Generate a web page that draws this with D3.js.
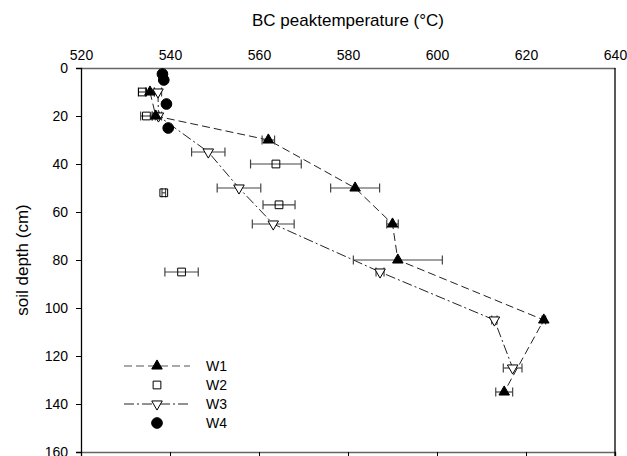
<!DOCTYPE html>
<html>
<head>
<meta charset="utf-8">
<script src="https://cdn.jsdelivr.net/npm/d3@7"></script>
<style>
  body { margin: 0; background: white; overflow: hidden; }
  svg { display: block; font-family: "Liberation Sans", Arial, sans-serif; }
</style>
</head>
<body>
<div id="chart"></div>
<script>
// soil depth (cm) and BC peak temperature (°C) per profile
const w1Depth = [10, 20, 30, 50, 65, 80, 105, 135];
const w1Temp = [535.5, 536.8, 562.1, 581.6, 590.0, 591.2, 624.0, 615.1];
const w1Err = [1.0, 0.8, 1.4, 5.5, 1.3, 10.0, 0.4, 1.9];

const w2Depth = [10, 20, 40, 52, 57, 85];
const w2Temp = [533.8, 534.7, 563.8, 538.6, 564.5, 542.6];
const w2Err = [0.9, 1.3, 5.7, 0.4, 3.6, 3.75];

const w3Depth = [10, 20, 35, 50, 65, 85, 105, 125];
const w3Temp = [537.3, 537.4, 548.6, 555.5, 563.2, 587.2, 612.9, 617.0];
const w3Err = [0.8, 0.7, 3.75, 4.9, 4.7, 0.9, 0.6, 2.1];

const w4Depth = [2.5, 5, 15, 25];
const w4Temp = [538.3, 538.6, 539.2, 539.6];

const xTicks = [520, 540, 560, 580, 600, 620, 640];
const yTicks = [0, 20, 40, 60, 80, 100, 120, 140, 160];
const seriesNames = ["W1", "W2", "W3", "W4"];

const width = 627, height = 456;
const plotL = 81, plotR = 615, plotT = 68, plotB = 452;

const svg = d3.select("#chart")
    .append("svg")
    .attr("width", width)
    .attr("height", height);

const x = d3.scaleLinear().domain([520, 640]).range([plotL, plotR]);
const y = d3.scaleLinear().domain([0, 160]).range([plotT, plotB]);

const zip = (d, t, e) => d.map((v, i) => ({ depth: v, temp: t[i], err: e ? e[i] : 0 }));
const w1 = zip(w1Depth, w1Temp, w1Err);
const w2 = zip(w2Depth, w2Temp, w2Err);
const w3 = zip(w3Depth, w3Temp, w3Err);
const w4 = zip(w4Depth, w4Temp);

// axes
const topAxis = svg.append("g")
    .attr("transform", `translate(0,${plotT})`)
    .call(d3.axisTop(x).tickValues(xTicks).tickSize(0).tickPadding(8));
topAxis.select(".domain").attr("stroke", "#666").attr("stroke-width", 1.5);

// bottom axis: only the tick marks show, its labels fall below the picture
const bottomAxis = svg.append("g")
    .attr("transform", `translate(0,${plotB})`)
    .call(d3.axisBottom(x).tickValues(xTicks).tickSize(5).tickFormat(""));
bottomAxis.select(".domain").attr("stroke", "#666").attr("stroke-width", 1.5);

const leftAxis = svg.append("g")
    .attr("transform", `translate(${plotL},0)`)
    .call(d3.axisLeft(y).tickValues(yTicks).tickSize(5).tickPadding(8));
leftAxis.select(".domain").attr("stroke", "#000").attr("stroke-width", 1.3);

svg.append("line")
    .attr("x1", plotR).attr("x2", plotR)
    .attr("y1", plotT).attr("y2", height)
    .attr("stroke", "#000").attr("stroke-width", 1.3);

svg.selectAll(".tick text").style("font-size", "14px").style("fill", "#000");
svg.selectAll(".tick line").attr("stroke", "#000");

svg.append("text")
    .attr("x", (plotL + plotR) / 2)
    .attr("y", 26)
    .attr("text-anchor", "middle")
    .style("font-size", "17px")
    .text("BC peaktemperature (°C)");

svg.append("text")
    .attr("transform", `translate(22,${(plotT + plotB) / 2}) rotate(-90)`)
    .attr("text-anchor", "middle")
    .attr("dominant-baseline", "central")
    .style("font-size", "17px")
    .text("soil depth (cm)");

// lines
const line = d3.line().x(d => x(d.temp)).y(d => y(d.depth));

svg.append("path")
    .datum(w1)
    .attr("d", line)
    .attr("fill", "none")
    .attr("stroke", "#222")
    .attr("stroke-width", 1)
    .attr("stroke-dasharray", "8,4");

svg.append("path")
    .datum(w3)
    .attr("d", line)
    .attr("fill", "none")
    .attr("stroke", "#222")
    .attr("stroke-width", 1)
    .attr("stroke-dasharray", "10,3,2,3");

// error bars
function errorBars(data) {
    const g = svg.append("g").attr("stroke", "#444").attr("stroke-width", 1.2);
    data.filter(d => d.err > 0).forEach(d => {
        const yy = y(d.depth);
        g.append("line").attr("x1", x(d.temp - d.err)).attr("x2", x(d.temp + d.err))
            .attr("y1", yy).attr("y2", yy);
        [d.temp - d.err, d.temp + d.err].forEach(v => {
            g.append("line").attr("x1", x(v)).attr("x2", x(v))
                .attr("y1", yy - 4.5).attr("y2", yy + 4.5);
        });
    });
}
errorBars(w2);
errorBars(w3);
errorBars(w1);

// symbols
const symTri = d3.symbol().type(d3.symbolTriangle).size(48);
const symSq = d3.symbol().type(d3.symbolSquare).size(60);
const symCirc = d3.symbol().type(d3.symbolCircle).size(90);

function drawPoints(data, sym, fill, rot) {
    svg.append("g").selectAll("path")
        .data(data)
        .enter()
        .append("path")
        .attr("d", sym)
        .attr("transform", d => `translate(${x(d.temp)},${y(d.depth)}) rotate(${rot})`)
        .attr("fill", fill)
        .attr("stroke", "#000")
        .attr("stroke-width", 1);
}
drawPoints(w2, symSq, "none", 0);
drawPoints(w3, symTri, "white", 180);
drawPoints(w1, symTri, "#000", 0);
drawPoints(w4, symCirc, "#000", 0);

// legend
const legY = [366, 385, 404, 423];
const leg = svg.append("g");
leg.append("line").attr("x1", 124).attr("x2", 190).attr("y1", legY[0]).attr("y2", legY[0])
    .attr("stroke", "#555").attr("stroke-width", 1.2).attr("stroke-dasharray", "8,4");
leg.append("line").attr("x1", 124).attr("x2", 190).attr("y1", legY[2]).attr("y2", legY[2])
    .attr("stroke", "#222").attr("stroke-width", 1).attr("stroke-dasharray", "10,3,2,3");
const legSyms = [[symTri, "#000", 0], [symSq, "white", 0], [symTri, "white", 180], [symCirc, "#000", 0]];
legSyms.forEach((s, i) => {
    leg.append("path")
        .attr("d", s[0])
        .attr("transform", `translate(157,${legY[i]}) rotate(${s[2]})`)
        .attr("fill", s[1])
        .attr("stroke", "#000");
    leg.append("text")
        .attr("x", 206)
        .attr("y", legY[i])
        .attr("dominant-baseline", "central")
        .style("font-size", "14px")
        .text(seriesNames[i]);
});
</script>
</body>
</html>
